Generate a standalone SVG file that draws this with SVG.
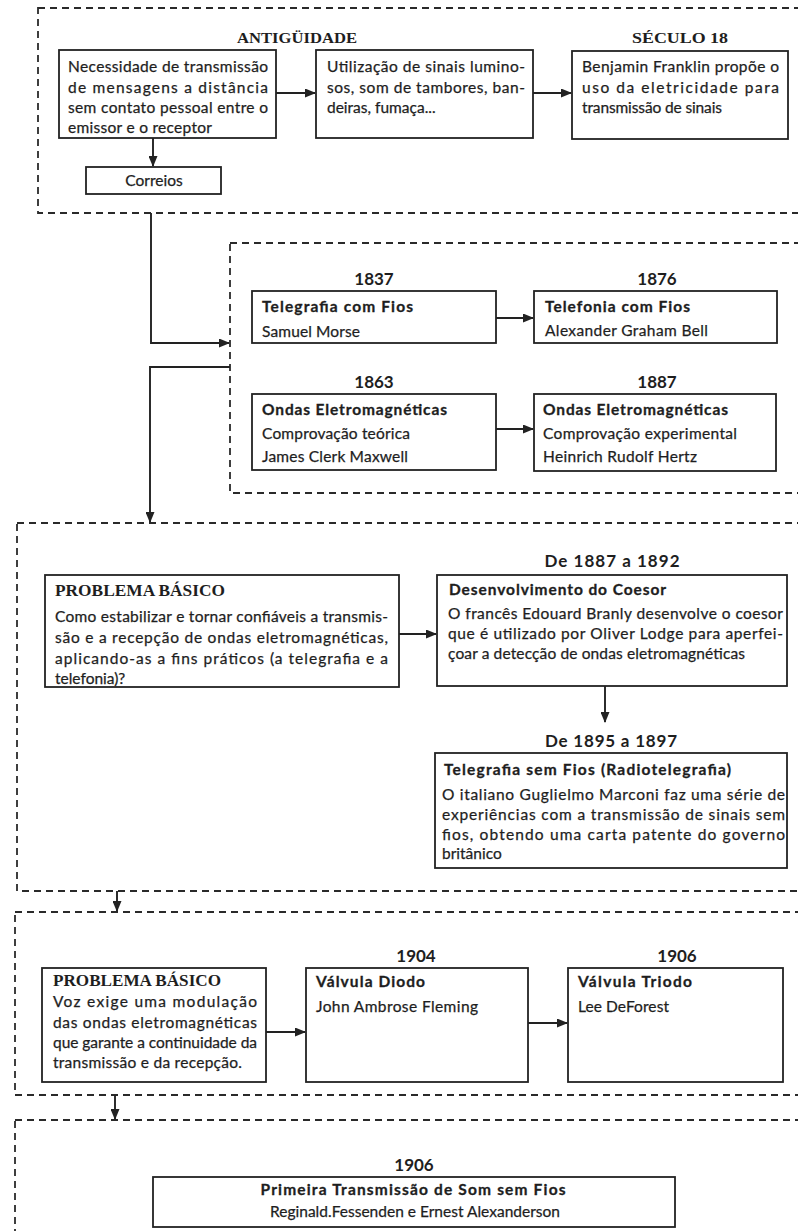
<svg xmlns="http://www.w3.org/2000/svg" width="798" height="1231" viewBox="0 0 798 1231">
  <style>
    .sec { fill: none; stroke: #2a2a2a; stroke-width: 1.8; stroke-dasharray: 7 5; }
    .box { fill: #ffffff; stroke: #222; stroke-width: 1.8; }
    .conn { fill: none; stroke: #222; stroke-width: 1.9; }
    .t { font-family: Lato, "Open Sans", "Liberation Sans", sans-serif; font-size: 15.5px; fill: #1e1e1e; stroke: #1e1e1e; stroke-width: 0.25; }
    .b { font-family: Lato, "Open Sans", "Liberation Sans", sans-serif; font-size: 15.5px; font-weight: bold; fill: #1e1e1e; stroke: #1e1e1e; stroke-width: 0.3; }
    .yr { font-family: Lato, "Open Sans", "Liberation Sans", sans-serif; font-size: 17px; font-weight: bold; fill: #1e1e1e; text-anchor: middle; }
    .hd { font-family: "Liberation Serif", "DejaVu Serif", serif; font-size: 14.5px; font-weight: bold; fill: #1e1e1e; }
    .pb { font-family: "Liberation Serif", "DejaVu Serif", serif; font-size: 17px; font-weight: bold; fill: #1e1e1e; }
    .c { text-anchor: middle; }
  </style>
  <defs>
    <marker id="arrow" markerWidth="11" markerHeight="9" refX="10" refY="4.5" orient="auto" markerUnits="userSpaceOnUse">
      <path d="M0,0 L11,4.5 L0,9 Z" fill="#222"/>
    </marker>
  </defs>

  <rect width="798" height="1231" fill="#ffffff"/>

  <!-- dashed period frames -->
  <g id="frames">
    <rect class="sec" x="38" y="8" width="800" height="205"/>
    <rect class="sec" x="230" y="243" width="600" height="250"/>
    <rect class="sec" x="17" y="523" width="800" height="368"/>
    <rect class="sec" x="15" y="912" width="800" height="183"/>
    <rect class="sec" x="15" y="1120" width="800" height="200"/>
  </g>

  <!-- connectors -->
  <g id="connectors">
    <line class="conn" x1="276" y1="93" x2="315" y2="93" marker-end="url(#arrow)"/>
    <line class="conn" x1="533" y1="93" x2="571" y2="93" marker-end="url(#arrow)"/>
    <line class="conn" x1="153" y1="138" x2="153" y2="166" marker-end="url(#arrow)"/>
    <path class="conn" d="M151,213 V343 H229" marker-end="url(#arrow)"/>
    <path class="conn" d="M230,367 H150 V522" marker-end="url(#arrow)"/>
    <line class="conn" x1="496" y1="318" x2="533" y2="318" marker-end="url(#arrow)"/>
    <line class="conn" x1="496" y1="429" x2="533" y2="429" marker-end="url(#arrow)"/>
    <line class="conn" x1="399" y1="634" x2="436" y2="634" marker-end="url(#arrow)"/>
    <line class="conn" x1="605" y1="686" x2="605" y2="722" marker-end="url(#arrow)"/>
    <line class="conn" x1="117" y1="891" x2="117" y2="911" marker-end="url(#arrow)"/>
    <line class="conn" x1="266" y1="1032" x2="305" y2="1032" marker-end="url(#arrow)"/>
    <line class="conn" x1="528" y1="1023" x2="567" y2="1023" marker-end="url(#arrow)"/>
    <line class="conn" x1="115" y1="1095" x2="115" y2="1119" marker-end="url(#arrow)"/>
  </g>

  <!-- Antigüidade -->
  <g id="antiguidade">
    <text class="hd" x="237" y="43" textLength="120" lengthAdjust="spacingAndGlyphs">ANTIGÜIDADE</text>
  </g>
  <g id="necessidade">
    <rect class="box" x="59" y="50" width="217" height="88"/>
    <text class="t" x="68" y="72" textLength="200" lengthAdjust="spacing">Necessidade de transmissão</text>
    <text class="t" x="68" y="93" textLength="200" lengthAdjust="spacing">de mensagens a distância</text>
    <text class="t" x="68" y="113" textLength="200" lengthAdjust="spacing">sem contato pessoal entre o</text>
    <text class="t" x="68" y="133" textLength="144" lengthAdjust="spacing">emissor e o receptor</text>
  </g>
  <g id="sinais">
    <rect class="box" x="316" y="50" width="217" height="88"/>
    <text class="t" x="327" y="72" textLength="198" lengthAdjust="spacing">Utilização de sinais lumino-</text>
    <text class="t" x="327" y="93" textLength="198" lengthAdjust="spacing">sos, som de tambores, ban-</text>
    <text class="t" x="327" y="113">deiras, fumaça...</text>
  </g>
  <g id="franklin">
    <text class="hd" x="632" y="43" textLength="96" lengthAdjust="spacingAndGlyphs">SÉCULO 18</text>
    <rect class="box" x="572" y="51" width="216" height="88"/>
    <text class="t" x="582" y="72" textLength="197" lengthAdjust="spacing">Benjamin Franklin propõe o</text>
    <text class="t" x="582" y="93" textLength="197" lengthAdjust="spacing">uso da eletricidade para</text>
    <text class="t" x="582" y="113" textLength="140" lengthAdjust="spacing">transmissão de sinais</text>
  </g>
  <g id="correios">
    <rect class="box" x="86" y="167" width="135" height="27"/>
    <text class="t c" x="154" y="186">Correios</text>
  </g>

  <!-- Século 19: fios e ondas -->
  <g id="telegrafia-fios">
    <text class="yr" x="374" y="285">1837</text>
    <rect class="box" x="252" y="291" width="244" height="52"/>
    <text class="b" x="262" y="312" textLength="151" lengthAdjust="spacing">Telegrafia com Fios</text>
    <text class="t" x="262" y="337" textLength="98" lengthAdjust="spacing">Samuel Morse</text>
  </g>
  <g id="telefonia-fios">
    <text class="yr" x="657" y="285">1876</text>
    <rect class="box" x="534" y="291" width="243" height="52"/>
    <text class="b" x="545" y="312" textLength="145" lengthAdjust="spacing">Telefonia com Fios</text>
    <text class="t" x="545" y="336" textLength="163" lengthAdjust="spacing">Alexander Graham Bell</text>
  </g>
  <g id="ondas-teoria">
    <text class="yr" x="374" y="388">1863</text>
    <rect class="box" x="252" y="394" width="244" height="76"/>
    <text class="b" x="262" y="415" textLength="185" lengthAdjust="spacing">Ondas Eletromagnéticas</text>
    <text class="t" x="262" y="439" textLength="148" lengthAdjust="spacing">Comprovação teórica</text>
    <text class="t" x="262" y="462" textLength="146" lengthAdjust="spacing">James Clerk Maxwell</text>
  </g>
  <g id="ondas-experimento">
    <text class="yr" x="657" y="388">1887</text>
    <rect class="box" x="534" y="394" width="242" height="77"/>
    <text class="b" x="543" y="415" textLength="185" lengthAdjust="spacing">Ondas Eletromagnéticas</text>
    <text class="t" x="543" y="439" textLength="194" lengthAdjust="spacing">Comprovação experimental</text>
    <text class="t" x="543" y="462" textLength="154" lengthAdjust="spacing">Heinrich Rudolf Hertz</text>
  </g>

  <!-- Problema básico 1 -->
  <g id="problema-1">
    <rect class="box" x="45" y="575" width="354" height="112"/>
    <text class="pb" x="55" y="596" textLength="170" lengthAdjust="spacingAndGlyphs">PROBLEMA BÁSICO</text>
    <text class="t" x="55" y="622" textLength="333" lengthAdjust="spacing">Como estabilizar e tornar confiáveis a transmis-</text>
    <text class="t" x="55" y="643" textLength="333" lengthAdjust="spacing">são e a recepção de ondas eletromagnéticas,</text>
    <text class="t" x="55" y="664" textLength="333" lengthAdjust="spacing">aplicando-as a fins práticos (a telegrafia e a</text>
    <text class="t" x="55" y="684">telefonia)?</text>
  </g>
  <g id="coesor">
    <text class="yr" x="612" y="567" textLength="135" lengthAdjust="spacing">De 1887 a 1892</text>
    <rect class="box" x="437" y="575" width="350" height="111"/>
    <text class="b" x="449" y="595" textLength="217" lengthAdjust="spacing">Desenvolvimento do Coesor</text>
    <text class="t" x="448" y="619" textLength="335" lengthAdjust="spacing">O francês Edouard Branly desenvolve o coesor</text>
    <text class="t" x="448" y="639" textLength="335" lengthAdjust="spacing">que é utilizado por Oliver Lodge para aperfei-</text>
    <text class="t" x="448" y="659" textLength="297" lengthAdjust="spacing">çoar a detecção de ondas eletromagnéticas</text>
  </g>
  <g id="radiotelegrafia">
    <text class="yr" x="611" y="747" textLength="132" lengthAdjust="spacing">De 1895 a 1897</text>
    <rect class="box" x="435" y="753" width="352" height="115"/>
    <text class="b" x="444" y="775" textLength="287" lengthAdjust="spacing">Telegrafia sem Fios (Radiotelegrafia)</text>
    <text class="t" x="442" y="800" textLength="343" lengthAdjust="spacing">O italiano Guglielmo Marconi faz uma série de</text>
    <text class="t" x="442" y="820" textLength="343" lengthAdjust="spacing">experiências com a transmissão de sinais sem</text>
    <text class="t" x="442" y="840" textLength="343" lengthAdjust="spacing">fios, obtendo uma carta patente do governo</text>
    <text class="t" x="442" y="859">britânico</text>
  </g>

  <!-- Problema básico 2 e válvulas -->
  <g id="problema-2">
    <rect class="box" x="42" y="968" width="224" height="114"/>
    <text class="pb" x="53" y="986" textLength="168" lengthAdjust="spacingAndGlyphs">PROBLEMA BÁSICO</text>
    <text class="t" x="53" y="1007" textLength="204" lengthAdjust="spacing">Voz exige uma modulação</text>
    <text class="t" x="53" y="1028" textLength="204" lengthAdjust="spacing">das ondas eletromagnéticas</text>
    <text class="t" x="53" y="1048" textLength="204" lengthAdjust="spacing">que garante a continuidade da</text>
    <text class="t" x="53" y="1068" textLength="189" lengthAdjust="spacing">transmissão e da recepção.</text>
  </g>
  <g id="diodo">
    <text class="yr" x="416" y="962">1904</text>
    <rect class="box" x="306" y="968" width="222" height="114"/>
    <text class="b" x="316" y="987" textLength="109" lengthAdjust="spacing">Válvula Diodo</text>
    <text class="t" x="316" y="1012" textLength="162" lengthAdjust="spacing">John Ambrose Fleming</text>
  </g>
  <g id="triodo">
    <text class="yr" x="677" y="962">1906</text>
    <rect class="box" x="568" y="968" width="215" height="114"/>
    <text class="b" x="578" y="987" textLength="114" lengthAdjust="spacing">Válvula Triodo</text>
    <text class="t" x="578" y="1012" textLength="91" lengthAdjust="spacing">Lee DeForest</text>
  </g>

  <!-- 1906: primeira transmissão -->
  <g id="primeira-transmissao">
    <text class="yr" x="414" y="1171">1906</text>
    <rect class="box" x="153" y="1177" width="522" height="50"/>
    <text class="b c" x="413" y="1195" textLength="305" lengthAdjust="spacing">Primeira Transmissão de Som sem Fios</text>
    <text class="t c" x="415" y="1217" textLength="290" lengthAdjust="spacing">Reginald.Fessenden e Ernest Alexanderson</text>
  </g>
</svg>
